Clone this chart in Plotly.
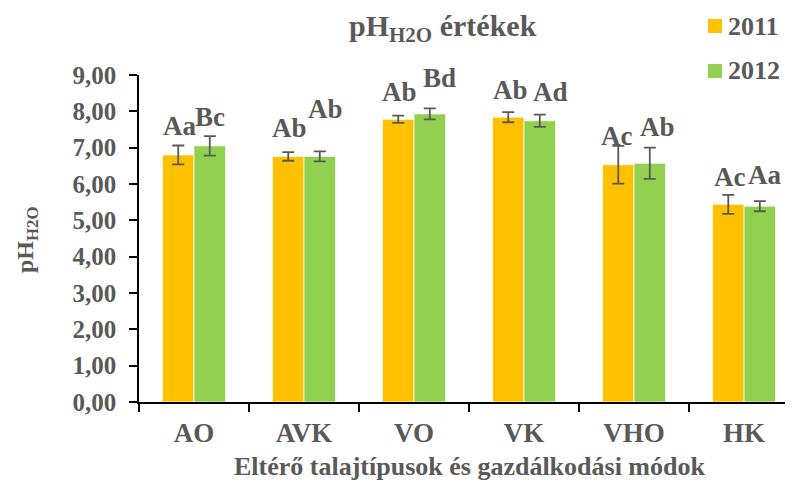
import plotly.graph_objects as go

categories = ["AO", "AVK", "VO", "VK", "VHO", "HK"]
series_names = ["2011", "2012"]
values_2011 = [6.80, 6.76, 7.78, 7.84, 6.53, 5.44]
values_2012 = [7.05, 6.76, 7.93, 7.74, 6.57, 5.39]
err_2011 = [0.26, 0.12, 0.10, 0.14, 0.52, 0.26]
err_2012 = [0.27, 0.14, 0.15, 0.17, 0.43, 0.14]
labels_2011 = ["Aa", "Ab", "Ab", "Ab", "Ac", "Ac"]
labels_2012 = ["Bc", "Ab", "Bd", "Ad", "Ab", "Aa"]
y_ticks = [0, 1, 2, 3, 4, 5, 6, 7, 8, 9]

# label placement styling (pixel nudges, as in the original chart)
lab_dx_2011 = [1, 1, 1, 2, -2, 1]
lab_dy_2011 = [2, 7, 7, 5, -7, 1]
lab_dx_2012 = [0, 6, 10, 11, 8, 5]
lab_dy_2012 = [2, 25, 13, 6, 4, 9]

FONT = "Liberation Serif, Times New Roman, serif"
GRAY = "#595959"
COLORS = ["#FFC000", "#92D050"]

# the page body has an 8px margin, so the figure is drawn 8px in from the corner
OFF = 8
W, H = 793 - OFF, 483 - OFF
ML, MR, MT, MB = 139 - OFF, 0, 75 - OFF, 81
PW, PH = W - ML - MR, H - MT - MB


def px_x(x):
    return (x - OFF - ML) / PW


def px_y(y):
    return (H - MB - (y - OFF)) / PH


fig = go.Figure()
for name, vals, errs, col in zip(series_names, [values_2011, values_2012],
                                 [err_2011, err_2012], COLORS):
    fig.add_trace(go.Bar(
        x=categories, y=vals, name=name, showlegend=False,
        marker=dict(color=col, line=dict(color="rgba(255,255,255,0.7)", width=1)),
        error_y=dict(type="data", array=errs, visible=True, color=GRAY,
                     thickness=1.8, width=6),
    ))

bar_px = 31.5
annotations = []
for vals, errs, labs, dxs, dys, off in [
    (values_2011, err_2011, labels_2011, lab_dx_2011, lab_dy_2011, -bar_px / 2),
    (values_2012, err_2012, labels_2012, lab_dx_2012, lab_dy_2012, bar_px / 2),
]:
    for c, v, e, t, dx, dy in zip(categories, vals, errs, labs, dxs, dys):
        annotations.append(dict(
            x=c, y=v + e, xref="x", yref="y", text=t, showarrow=False,
            xanchor="center", yanchor="bottom", xshift=off + dx, yshift=dy,
            font=dict(family=FONT, size=27, color=GRAY, weight="bold"),
        ))

annotations.append(dict(
    x=px_x(443), y=px_y(28), xref="paper", yref="paper", showarrow=False,
    text="pH<sub>H2O</sub> értékek", xanchor="center", yanchor="middle",
    font=dict(family=FONT, size=30, color=GRAY, weight="bold"),
))
annotations.append(dict(
    x=px_x(27), y=px_y(240), xref="paper", yref="paper", showarrow=False,
    text="pH<sub>H2O</sub>", textangle=-90, xanchor="center", yanchor="middle",
    font=dict(family=FONT, size=24, color=GRAY, weight="bold"),
))
annotations.append(dict(
    x=px_x(469), y=px_y(466), xref="paper", yref="paper", showarrow=False,
    text="Eltérő talajtípusok és gazdálkodási módok", xanchor="center",
    yanchor="middle",
    font=dict(family=FONT, size=26, color=GRAY, weight="bold"),
))

# legend (drawn manually so it does not push the plot margins)
shapes = []
for i, (name, col) in enumerate(zip(series_names, COLORS)):
    cy = 26 + 45 * i
    shapes.append(dict(type="rect", xref="paper", yref="paper",
                       x0=px_x(708), x1=px_x(722), y0=px_y(cy + 7), y1=px_y(cy - 7),
                       fillcolor=col, line=dict(width=0)))
    annotations.append(dict(
        x=px_x(726), y=px_y(cy), xref="paper", yref="paper", showarrow=False,
        text=name, xanchor="left", yanchor="middle",
        font=dict(family=FONT, size=26, color=GRAY, weight="bold"),
    ))

fig.update_layout(
    width=W, height=H,
    margin=dict(l=ML, r=MR, t=MT, b=MB, autoexpand=False),
    paper_bgcolor="white", plot_bgcolor="white",
    separators=", ",
    barmode="group", bargap=0.427, bargroupgap=0,
    showlegend=False,
    annotations=annotations,
    shapes=shapes,
)
fig.update_xaxes(
    range=[-0.5, 5.445], showline=True, linecolor="black", linewidth=2,
    ticks="outside", tickson="boundaries", ticklen=8, tickcolor="black",
    tickwidth=1.5, showgrid=False, ticklabelstandoff=6,
    tickfont=dict(family=FONT, size=27, color=GRAY, weight="bold"),
)
fig.update_yaxes(
    range=[0, 9], tickvals=y_ticks, tickformat=".2f", showline=True,
    linecolor="black", linewidth=1.5, ticks="outside", ticklen=8,
    tickcolor="black", tickwidth=1.5, showgrid=False, zeroline=False,
    ticklabelstandoff=8,
    tickfont=dict(family=FONT, size=25, color=GRAY, weight="bold"),
)

fig.write_html("out.html")
